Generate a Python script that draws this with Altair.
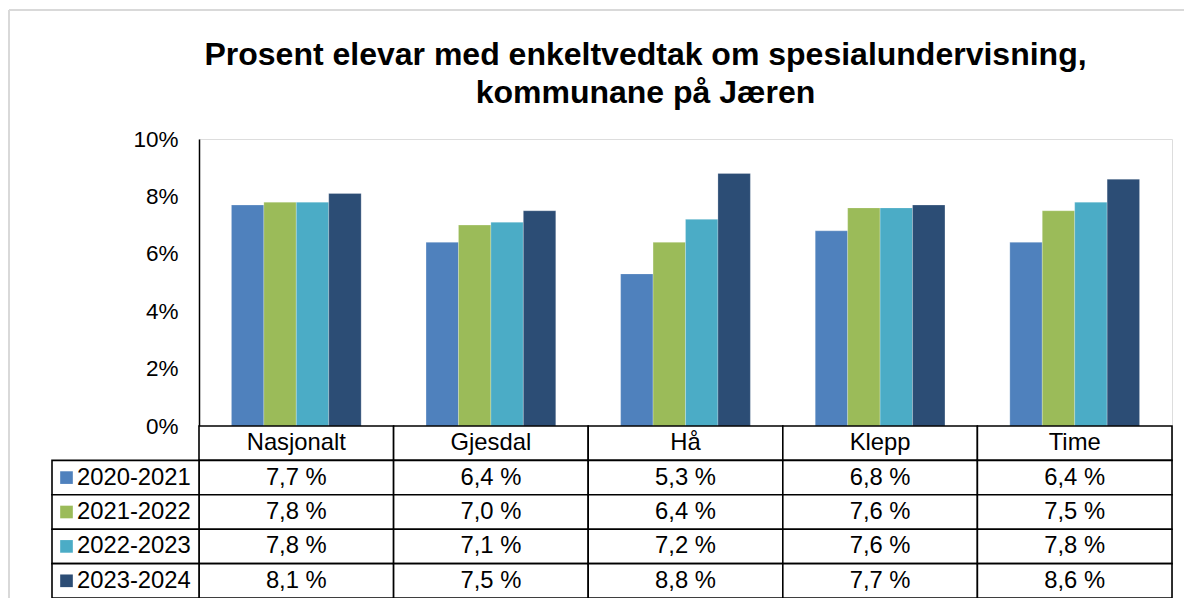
import altair as alt
import pandas as pd

categories = ["Nasjonalt", "Gjesdal", "Hå", "Klepp", "Time"]
years = ["2020-2021", "2021-2022", "2022-2023", "2023-2024"]
v_2020_2021 = [7.7, 6.4, 5.3, 6.8, 6.4]
v_2021_2022 = [7.8, 7.0, 6.4, 7.6, 7.5]
v_2022_2023 = [7.8, 7.1, 7.2, 7.6, 7.8]
v_2023_2024 = [8.1, 7.5, 8.8, 7.7, 8.6]
colors = ["#4F81BD", "#9BBB59", "#4BACC6", "#2C4D75"]
y_ticks = [0, 2, 4, 6, 8, 10]
title_lines = ["Prosent elevar med enkeltvedtak om spesialundervisning,", "kommunane på Jæren"]

series = [v_2020_2021, v_2021_2022, v_2022_2023, v_2023_2024]
FONT = "Liberation Sans"
FS_AXIS = 22.5
FS_TAB = 23.8

rows = ["hdr"] + years

bar_records = []
cell_records = []
for c_i, cat in enumerate(categories):
    cell_records.append({"cat": cat, "row": "hdr", "label": cat})
    for y_i, yr in enumerate(years):
        v = series[y_i][c_i]
        bar_records.append({"cat": cat, "year": yr, "value": v})
        cell_records.append({"cat": cat, "row": yr,
                             "label": f"{v:.1f}".replace(".", ",") + " %"})
df_bars = pd.DataFrame(bar_records)
df_cells = pd.DataFrame(cell_records)
df_leg = pd.DataFrame({"col": ["legend"] * len(years), "row": years, "year": years})

W, H_BAR, H_ALL = 973, 287, 459
LEG_W = 147

x_cat = alt.X("cat:N", sort=categories,
              scale=alt.Scale(domain=categories, paddingInner=0, paddingOuter=0),
              axis=None)
y_row = alt.Y("row:N", sort=rows,
              scale=alt.Scale(domain=rows, range=[H_BAR, H_ALL], paddingInner=0, paddingOuter=0),
              axis=None)
color_enc = alt.Color("year:N", sort=years,
                      scale=alt.Scale(domain=years, range=colors), legend=None)

frame_top = alt.Chart(pd.DataFrame({"a": [0]})).mark_rule(
    stroke="#d9d9d9", strokeWidth=2
).encode(x=alt.value(-190), x2=alt.value(W + 12), y=alt.value(-129))
frame_left = alt.Chart(pd.DataFrame({"a": [0]})).mark_rule(
    stroke="#d9d9d9", strokeWidth=2
).encode(x=alt.value(-190), y=alt.value(-129), y2=alt.value(H_ALL))

bars = alt.Chart(df_bars).mark_bar(stroke="#ffffff", strokeWidth=0.4, strokeOpacity=0.6).encode(
    x=x_cat,
    xOffset=alt.XOffset("year:N", sort=years,
                        scale=alt.Scale(domain=years, paddingInner=0, paddingOuter=1)),
    y=alt.Y("value:Q",
            scale=alt.Scale(domain=[0, 10], range=[H_BAR, 0], nice=False, zero=True),
            axis=alt.Axis(values=y_ticks, labelExpr="datum.value + '%'", title=None,
                          grid=False, ticks=False, tickSize=0, labelPadding=21,
                          labelFont=FONT, labelFontSize=FS_AXIS, labelColor="#000000",
                          domainColor="#000000", domainWidth=1.5)),
    color=color_enc,
)

cells = alt.Chart(df_cells).mark_rect(fill="white", stroke="#000000", strokeWidth=1.6).encode(
    x=x_cat, y=y_row
)
cell_text = alt.Chart(df_cells).mark_text(
    font=FONT, fontSize=FS_TAB, color="#000000", align="center", baseline="middle", dy=0
).encode(x=x_cat, y=y_row, text="label:N")

x_leg = alt.X("col:N", scale=alt.Scale(domain=["legend"], range=[-LEG_W, 0],
                                        paddingInner=0, paddingOuter=0), axis=None)
leg_cells = alt.Chart(df_leg).mark_rect(fill="white", stroke="#000000", strokeWidth=1.6).encode(
    x=x_leg, y=y_row
)
leg_sq = alt.Chart(df_leg).mark_square(size=160, opacity=1, filled=True,
                                       xOffset=14.5 - LEG_W / 2).encode(
    x=x_leg, y=y_row, color=color_enc
)
leg_text = alt.Chart(df_leg).mark_text(
    font=FONT, fontSize=FS_TAB, color="#000000", align="left", baseline="middle",
    dx=25 - LEG_W / 2, dy=0
).encode(x=x_leg, y=y_row, text="year:N")

chart = alt.layer(frame_top, frame_left, bars, cells, cell_text, leg_cells, leg_sq,
                  leg_text).resolve_scale(
    x="independent", y="independent"
).properties(
    width=W, height=H_ALL,
    autosize=alt.AutoSizeParams(type="none"),
    padding={"left": 191, "top": 131, "right": 12, "bottom": 0},
    title=alt.TitleParams(text=title_lines, font=FONT, fontSize=32, fontWeight="bold",
                          color="#000000", anchor="middle", frame="group", dx=-40,
                          offset=-101, lineHeight=38),
).configure_view(strokeWidth=0).configure(background="white")

chart.save("out.html", embed_options={"renderer": "svg", "actions": False})
